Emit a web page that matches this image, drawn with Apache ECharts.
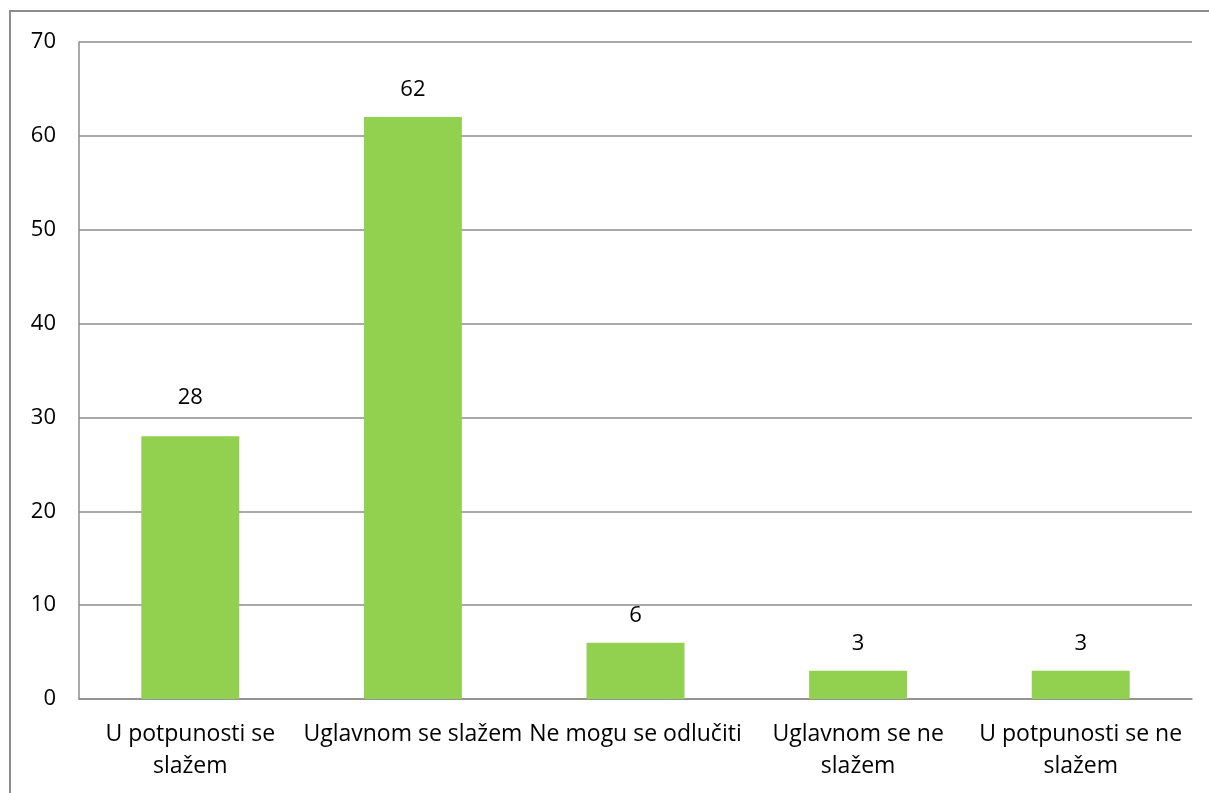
<!DOCTYPE html>
<html>
<head>
    <meta charset="utf-8">
    <title>chart</title>
    <script src="https://cdn.jsdelivr.net/npm/echarts@6/dist/echarts.min.js"></script>
    <style>
        html, body { margin: 0; padding: 0; background: #fff; }
    </style>
</head>
<body>
<div id="main" style="width: 1209px;height:793px;"></div>

<script>
    // podaci
    var categories = ['U potpunosti se\nslažem', 'Uglavnom se slažem', 'Ne mogu se odlučiti', 'Uglavnom se ne\nslažem', 'U potpunosti se ne\nslažem'];
    var values = [28, 62, 6, 3, 3];
    var yMin = 0, yMax = 70, yStep = 10;

    var gray = '#8c8c8c';
    var font = '"Open Sans", sans-serif';

    // prva oznaka je u originalu malo vise
    var barData = values.map(function (v, i) {
        return i === 0 ? { value: v, label: { offset: [0, -11] } } : v;
    });

    var chart = echarts.init(document.getElementById('main'));
    chart.setOption({
        backgroundColor: '#fff',
        animation: false,
        graphic: [{
            type: 'rect',
            shape: { x: 10, y: 11, width: 1300, height: 900 },
            style: { fill: 'none', stroke: gray, lineWidth: 2 },
            silent: true
        }],
        grid: { left: 79, right: 17, top: 42, bottom: 94 },
        xAxis: {
            type: 'category',
            data: categories,
            axisLine: { show: true, lineStyle: { color: gray, width: 1.5 } },
            axisTick: { show: false },
            axisLabel: {
                interval: 0,
                margin: 19,
                color: '#000',
                fontSize: 23,
                fontFamily: font,
                lineHeight: 32
            }
        },
        yAxis: {
            type: 'value',
            min: yMin,
            max: yMax,
            interval: yStep,
            axisLine: { show: true, lineStyle: { color: gray, width: 1.5 } },
            axisTick: { show: false },
            splitLine: { show: true, lineStyle: { color: gray, width: 1.5 } },
            axisLabel: {
                margin: 23,
                color: '#000',
                fontSize: 22,
                fontFamily: font
            }
        },
        series: [{
            type: 'bar',
            data: barData,
            barWidth: '44%',
            itemStyle: { color: '#92d050' },
            label: {
                show: true,
                position: 'top',
                distance: 16,
                color: '#000',
                fontSize: 22,
                fontFamily: font
            }
        }]
    });
</script>
</body>
</html>
